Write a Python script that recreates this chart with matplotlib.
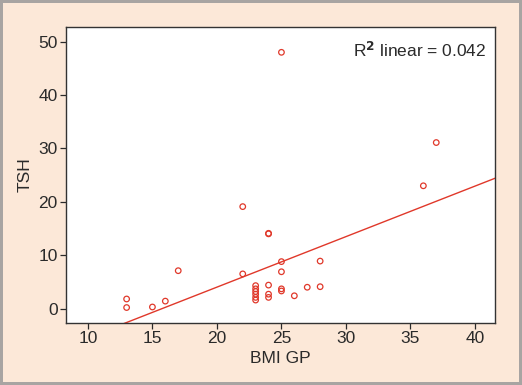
import numpy as np
import matplotlib
matplotlib.use("Agg")
import matplotlib.pyplot as plt

# BMI GP vs TSH
bmi = [13, 13, 15, 16, 17, 22, 22,
       23, 23, 23, 23, 23, 23,
       24, 24, 24, 24, 24,
       25, 25, 25, 25, 25,
       26, 27, 28, 28, 36, 37]
tsh = [1.8, 0.2, 0.3, 1.4, 7.1, 19.1, 6.5,
       4.3, 3.7, 3.2, 2.7, 2.1, 1.6,
       14.0, 14.1, 4.4, 2.7, 2.1,
       48.0, 8.8, 6.9, 3.7, 3.3,
       2.4, 4.0, 8.9, 4.1, 23.0, 31.1]

# fit line as drawn in the figure (intercept, slope)
fit_intercept = -14.9
fit_slope = 0.946
r2_text = "0.042"

xticks = [10, 15, 20, 25, 30, 35, 40]
yticks = [0, 10, 20, 30, 40, 50]

plt.rcParams['font.family'] = ['Liberation Sans', 'DejaVu Sans']
plt.rcParams['mathtext.default'] = 'regular'

red = '#e0382a'
ink = '#2a2a2a'

fig = plt.figure(figsize=(5.22, 3.85), dpi=100)
fig.patch.set_facecolor('#fce8d8')
fig.patch.set_edgecolor('#a8a4a2')
fig.patch.set_linewidth(3)

ax = fig.add_axes([0.1264, 0.161, 0.8218, 0.769])
ax.set_facecolor('white')

xlim = (8.3, 41.55)
ax.scatter(bmi, tsh, s=16, facecolors='none', edgecolors=red, linewidths=0.9, zorder=3)
xs = np.array(xlim)
ax.plot(xs, fit_intercept + fit_slope * xs, color=red, lw=1.0, zorder=2)

ax.set_xlim(*xlim)
ax.set_ylim(-2.7, 52.75)
ax.set_xticks(xticks)
ax.set_yticks(yticks)
ax.tick_params(labelsize=12.5, colors=ink, length=4, width=0.9, pad=2)
for s in ax.spines.values():
    s.set_color('#333333')
    s.set_linewidth(1.0)

ax.set_xlabel("BMI GP", fontsize=12.5, color=ink, labelpad=3)
ax.set_ylabel("TSH", fontsize=12.5, color=ink, labelpad=4)

ax.text(0.98, 0.955, r"R$^{\mathbf{2}}$ linear = " + r2_text, transform=ax.transAxes,
        ha='right', va='top', fontsize=12.5, color=ink)

fig.savefig("out.png", dpi=100, facecolor=fig.get_facecolor(), edgecolor=fig.get_edgecolor())
